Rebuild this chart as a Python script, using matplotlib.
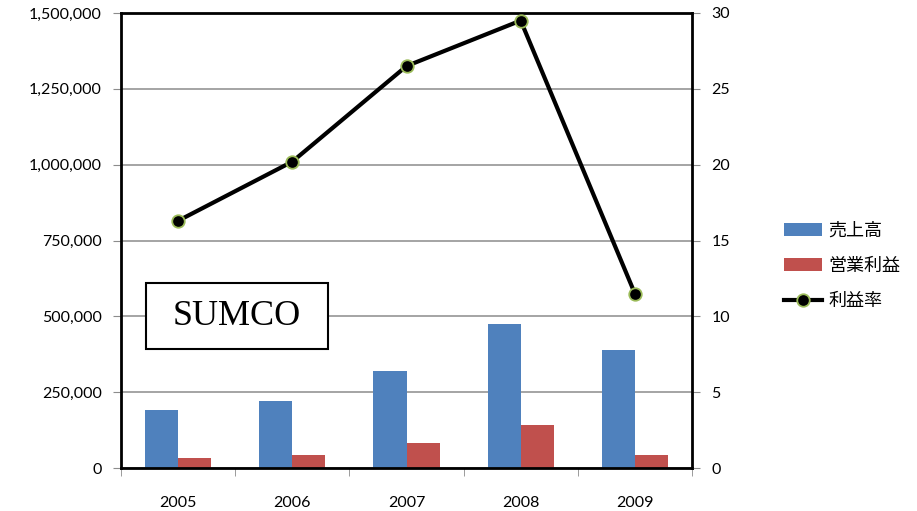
import matplotlib.pyplot as plt
from matplotlib.patches import Rectangle
import numpy as np

years = ['2005', '2006', '2007', '2008', '2009']
sales = [191000, 221000, 320000, 475000, 389000]
op_profit = [33000, 43000, 82000, 142000, 43000]
margin = [16.3, 20.2, 26.5, 29.5, 11.5]

plt.rcParams['font.family'] = ['Lato', 'Noto Sans CJK JP', 'DejaVu Sans']

fig = plt.figure(figsize=(9.17, 5.11), dpi=100)
ax = fig.add_axes([0.132, 0.0841, 0.6226, 0.8905])
ax2 = ax.twinx()

x = np.arange(len(years))
w = 0.29
b1 = ax.bar(x - w / 2, sales, w, color='#4f81bd', label='売上高', zorder=2)
b2 = ax.bar(x + w / 2, op_profit, w, color='#c0504d', label='営業利益', zorder=2)

ax.set_xlim(-0.5, 4.5)
ax.set_ylim(0, 1500000)
ax.set_yticks(np.arange(0, 1500001, 250000))
ax.set_yticklabels([f'{v:,}' for v in range(0, 1500001, 250000)])
ax.yaxis.grid(True, color='#8c8c8c', linewidth=1.1, zorder=0)
ax.set_axisbelow(True)

ax.set_xticks(x)
ax.set_xticklabels(years)
ax.set_xticks(np.arange(-0.5, 5, 1), minor=True)
ax.tick_params(axis='x', which='major', length=0, pad=20)
ax.tick_params(axis='x', which='minor', length=6, color='#8c8c8c', direction='out')
ax.tick_params(axis='y', length=6, color='#8c8c8c', direction='out', pad=8)
ax.tick_params(labelsize=11.5)

for s in ['left', 'bottom', 'top']:
    ax.spines[s].set_linewidth(2)
    ax.spines[s].set_color('black')
ax.spines['right'].set_visible(False)

ax2.set_ylim(0, 30)
ax2.set_yticks(range(0, 31, 5))
ax2.tick_params(axis='y', length=6, color='#8c8c8c', direction='out', labelsize=11.5, pad=8)
for s in ['left', 'bottom', 'top']:
    ax2.spines[s].set_visible(False)
ax2.spines['right'].set_linewidth(2)
ax2.spines['right'].set_color('black')

ln, = ax2.plot(x, margin, color='black', linewidth=3, marker='o', markersize=9,
               markerfacecolor='black', markeredgecolor='#9bbb59', markeredgewidth=1.3,
               label='利益率', zorder=3)

# SUMCO label box
ax.add_patch(Rectangle((-0.281, 392000), 1.594, 218000, facecolor='white',
                       edgecolor='black', linewidth=1.5, zorder=4))
ax.text(0.516, 501000, 'SUMCO', fontsize=26, family='Liberation Serif',
        ha='center', va='center', zorder=5)

fig.legend(handles=[b1, b2, ln], loc='center left', bbox_to_anchor=(0.837, 0.48),
           frameon=False, fontsize=13, handlelength=2.1, labelspacing=1.05, handletextpad=0.35)

fig.savefig('out.png', dpi=100)
